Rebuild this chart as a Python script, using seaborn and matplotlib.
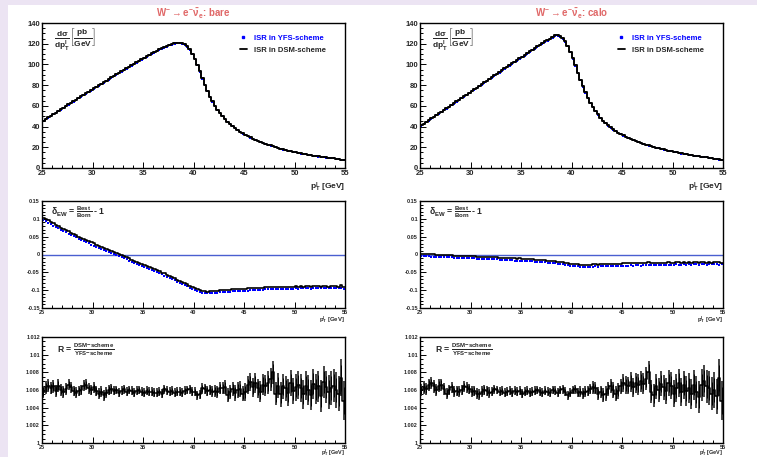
import numpy as np
import pandas as pd
import matplotlib
matplotlib.use("Agg")
import matplotlib.pyplot as plt
import seaborn as sns
from matplotlib.ticker import MultipleLocator, AutoMinorLocator, FuncFormatter
from matplotlib.lines import Line2D
from matplotlib.patches import Rectangle

# ---- data: 120 bins of 0.25 GeV between 25 and 55 GeV ----
pt_min, pt_max, bin_w = 25.0, 55.0, 0.25
pt = np.arange(pt_min + bin_w / 2, pt_max, bin_w)

# dsigma/dpT [pb/GeV], ISR in YFS scheme
yfs_bare = [
    45.5, 47.0, 48.6, 50.1, 51.7, 53.2, 54.8, 56.3, 57.9, 59.4, 61.0, 62.5,
    64.1, 65.6, 67.2, 68.7, 70.2, 71.8, 73.3, 74.8, 76.4, 77.9, 79.4, 80.9,
    82.4, 83.9, 85.4, 86.9, 88.4, 89.9, 91.4, 92.9, 94.4, 95.8, 97.3, 98.8,
    100.2, 101.7, 103.1, 104.5, 105.9, 107.3, 108.7, 110.0, 111.3, 112.6, 113.9, 115.1,
    116.2, 117.3, 118.3, 119.2, 119.9, 120.3, 120.3, 119.8, 118.6, 116.7, 113.8, 109.9,
    105.0, 99.2, 92.8, 86.2, 79.8, 73.9, 68.6, 63.9, 59.8, 56.1, 52.8, 49.8,
    47.1, 44.6, 42.3, 40.2, 38.3, 36.5, 34.8, 33.3, 31.9, 30.6, 29.4, 28.2,
    27.1, 26.1, 25.1, 24.2, 23.3, 22.5, 21.7, 20.9, 19.8, 19.1, 18.4, 17.8,
    17.2, 16.6, 16.0, 15.5, 15.0, 14.5, 14.0, 13.5, 13.1, 12.7, 12.3, 11.9,
    11.5, 11.1, 10.8, 10.4, 10.1, 9.8, 9.5, 9.2, 8.7, 8.3, 8.0, 7.7,
]
yfs_calo = [
    41.0, 42.6, 44.2, 45.8, 47.5, 49.1, 50.7, 52.4, 54.0, 55.6, 57.3, 58.9,
    60.6, 62.2, 63.9, 65.5, 67.2, 68.9, 70.5, 72.2, 73.9, 75.5, 77.2, 78.9,
    80.5, 82.2, 83.9, 85.5, 87.2, 88.9, 90.6, 92.2, 93.9, 95.6, 97.3, 98.9,
    100.4, 102.0, 103.6, 105.2, 106.8, 108.5, 110.2, 111.9, 113.5, 115.2, 116.8, 118.4,
    120.0, 121.6, 123.0, 124.2, 126.0, 127.3, 127.4, 126.4, 125.0, 122.0, 117.5, 111.8,
    105.5, 98.5, 91.5, 84.8, 78.5, 72.5, 67.2, 62.6, 58.5, 54.8, 51.5, 48.4,
    45.5, 43.2, 41.0, 39.0, 37.0, 35.4, 33.9, 32.6, 31.3, 30.1, 29.0, 27.9,
    26.9, 25.9, 25.0, 24.1, 23.3, 22.5, 21.7, 21.0, 20.3, 19.6, 19.0, 18.4,
    17.8, 17.2, 16.6, 16.1, 15.5, 15.0, 14.5, 14.0, 13.6, 13.1, 12.7, 12.3,
    11.9, 11.5, 11.2, 10.8, 10.5, 10.2, 9.9, 9.6, 9.0, 8.6, 8.2, 7.9,
]

# delta_EW = Best/Born - 1, YFS scheme
delta_bare = [
    0.097, 0.093, 0.089, 0.085, 0.081, 0.077, 0.073, 0.069, 0.065, 0.062, 0.058, 0.055,
    0.051, 0.048, 0.044, 0.041, 0.038, 0.034, 0.031, 0.028, 0.025, 0.022, 0.019, 0.016,
    0.013, 0.010, 0.007, 0.004, 0.001, -0.002, -0.005, -0.008, -0.011, -0.014, -0.017, -0.020,
    -0.023, -0.026, -0.029, -0.032, -0.035, -0.038, -0.041, -0.044, -0.047, -0.050, -0.053, -0.056,
    -0.059, -0.062, -0.066, -0.069, -0.072, -0.076, -0.079, -0.082, -0.086, -0.089, -0.093, -0.096,
    -0.099, -0.102, -0.105, -0.107, -0.108, -0.109, -0.109, -0.108, -0.108, -0.107, -0.106, -0.106,
    -0.105, -0.104, -0.104, -0.103, -0.103, -0.102, -0.102, -0.101, -0.101, -0.101, -0.100, -0.100,
    -0.100, -0.099, -0.099, -0.099, -0.098, -0.098, -0.098, -0.097, -0.097, -0.097, -0.097, -0.096,
    -0.096, -0.096, -0.096, -0.096, -0.095, -0.096, -0.095, -0.095, -0.095, -0.095, -0.096, -0.095,
    -0.095, -0.094, -0.095, -0.095, -0.094, -0.095, -0.094, -0.095, -0.094, -0.095, -0.093, -0.096,
]
delta_calo = [
    -0.004, -0.004, -0.005, -0.005, -0.006, -0.006, -0.006, -0.007, -0.007, -0.007, -0.008, -0.008,
    -0.008, -0.009, -0.009, -0.009, -0.010, -0.010, -0.010, -0.011, -0.011, -0.011, -0.012, -0.012,
    -0.012, -0.013, -0.013, -0.013, -0.014, -0.014, -0.014, -0.015, -0.015, -0.015, -0.016, -0.016,
    -0.016, -0.017, -0.017, -0.017, -0.018, -0.018, -0.018, -0.019, -0.019, -0.020, -0.020, -0.021,
    -0.021, -0.022, -0.023, -0.024, -0.025, -0.025, -0.026, -0.027, -0.028, -0.029, -0.030, -0.031,
    -0.032, -0.033, -0.033, -0.034, -0.034, -0.034, -0.034, -0.034, -0.034, -0.033, -0.034, -0.033,
    -0.033, -0.032, -0.033, -0.032, -0.032, -0.032, -0.031, -0.032, -0.031, -0.031, -0.031, -0.030,
    -0.031, -0.030, -0.030, -0.031, -0.030, -0.030, -0.029, -0.030, -0.030, -0.029, -0.030, -0.029,
    -0.029, -0.029, -0.029, -0.030, -0.029, -0.028, -0.029, -0.029, -0.028, -0.029, -0.028, -0.029,
    -0.028, -0.028, -0.029, -0.028, -0.028, -0.029, -0.028, -0.028, -0.028, -0.027, -0.029, -0.028,
]

# R = DSM / YFS, stored as (R - 1) * 1000
ratio_bare = [
    5.8, 6.3, 6.5, 6.2, 6.4, 5.9, 6.5, 6.0, 5.8, 6.1, 6.6, 6.3,
    5.9, 5.7, 5.9, 6.0, 6.5, 6.6, 6.2, 6.0, 6.3, 5.9, 5.6, 5.8,
    5.4, 5.7, 6.0, 6.1, 5.9, 6.0, 5.7, 5.9, 6.1, 5.8, 6.0, 5.9,
    5.7, 5.9, 6.0, 5.8, 5.7, 5.9, 5.8, 5.8, 5.7, 5.7, 5.8, 5.6,
    6.1, 5.9, 5.8, 5.9, 5.7, 5.8, 5.8, 5.7, 5.9, 6.0, 6.1, 5.8,
    5.8, 5.4, 5.5, 6.2, 6.1, 5.9, 6.0, 5.8, 5.9, 5.8, 6.2, 6.2,
    6.3, 5.4, 5.8, 6.1, 5.7, 6.0, 6.1, 5.6, 5.8, 6.6, 6.9, 6.3,
    6.8, 6.2, 5.8, 6.6, 6.5, 6.8, 7.2, 8.0, 5.6, 6.5, 5.5, 6.4,
    6.2, 5.7, 6.8, 5.9, 6.3, 6.6, 6.2, 5.5, 6.5, 6.0, 5.4, 6.7,
    6.1, 6.4, 5.3, 6.9, 6.3, 5.8, 6.2, 6.5, 6.0, 5.6, 7.4, 4.8,
]
ratio_calo = [
    6.0, 6.3, 6.1, 6.6, 6.8, 6.4, 6.0, 6.5, 6.6, 6.1, 5.6, 6.0,
    6.3, 5.8, 5.9, 5.8, 6.0, 6.4, 6.3, 6.1, 5.8, 5.9, 5.6, 5.5,
    5.8, 6.0, 5.9, 5.7, 5.8, 6.1, 6.0, 5.8, 5.9, 5.7, 5.8, 5.9,
    5.7, 5.9, 5.8, 5.9, 5.6, 5.8, 5.9, 5.7, 5.8, 5.9, 6.0, 5.8,
    5.7, 5.9, 5.8, 5.7, 6.0, 5.9, 5.7, 6.0, 6.1, 5.8, 5.4, 5.7,
    6.0, 6.1, 5.7, 5.8, 5.6, 5.8, 5.9, 6.1, 6.3, 6.2, 5.6, 5.8,
    5.4, 5.6, 6.1, 6.5, 6.0, 5.6, 5.9, 6.4, 6.8, 6.6, 6.5, 6.9,
    6.3, 6.8, 6.6, 7.0, 6.7, 7.3, 8.0, 5.8, 5.4, 6.4, 6.0, 6.7,
    6.3, 5.9, 6.8, 6.5, 5.6, 6.2, 6.8, 5.8, 6.6, 5.9, 6.2, 5.5,
    6.6, 5.8, 5.2, 6.6, 7.0, 6.4, 6.2, 5.6, 6.0, 5.3, 7.4, 4.8,
]
# statistical error on R, also x1000
ratio_err = [
    0.7, 0.7, 0.7, 0.7, 0.7, 0.7, 0.7, 0.7, 0.7, 0.7, 0.6, 0.6,
    0.6, 0.6, 0.6, 0.6, 0.6, 0.6, 0.6, 0.6, 0.6, 0.6, 0.6, 0.6,
    0.6, 0.6, 0.6, 0.6, 0.5, 0.5, 0.5, 0.5, 0.5, 0.5, 0.5, 0.5,
    0.5, 0.5, 0.5, 0.5, 0.5, 0.5, 0.5, 0.5, 0.5, 0.5, 0.5, 0.5,
    0.5, 0.5, 0.5, 0.5, 0.5, 0.5, 0.5, 0.5, 0.5, 0.5, 0.5, 0.5,
    0.5, 0.5, 0.5, 0.6, 0.6, 0.6, 0.6, 0.6, 0.7, 0.7, 0.7, 0.7,
    0.8, 0.8, 0.8, 0.8, 0.9, 0.9, 0.9, 0.9, 1.0, 1.0, 1.0, 1.1,
    1.1, 1.1, 1.2, 1.2, 1.2, 1.3, 1.3, 1.3, 1.3, 1.4, 1.4, 1.4,
    1.4, 1.5, 1.5, 1.5, 1.5, 1.6, 1.6, 1.6, 1.6, 1.7, 1.7, 1.7,
    1.7, 1.8, 1.8, 1.8, 1.8, 1.9, 1.9, 1.9, 2.0, 2.0, 2.1, 2.2,
]

schemes = ["bare", "calo"]
yfs = {"bare": yfs_bare, "calo": yfs_calo}
delta = {"bare": delta_bare, "calo": delta_calo}
ratio = {"bare": ratio_bare, "calo": ratio_calo}

# ---- style ----
sns.set_theme(style="ticks")
plt.rcParams["font.family"] = ["Liberation Sans", "DejaVu Sans"]
plt.rcParams["font.weight"] = "bold"
plt.rcParams["mathtext.fontset"] = "custom"
plt.rcParams["mathtext.rm"] = "Liberation Sans:bold"
plt.rcParams["mathtext.it"] = "Liberation Sans:bold"
plt.rcParams["mathtext.bf"] = "Liberation Sans:bold"
plt.rcParams["mathtext.default"] = "bf"

fig = plt.figure(figsize=(7.57, 4.57), dpi=100, facecolor="#ece4f3")
fig.patches.append(Rectangle((8 / 757, 0), 1, 1 - 5 / 457, transform=fig.transFigure,
                             facecolor="white", edgecolor="none", zorder=-10))

W, H = 757, 457
col_x = [42, 420]
ax_w = 303
rows = [(23, 168), (201, 308), (337, 443)]
gfmt = FuncFormatter(lambda v, p: f"{v:g}")


def make_ax(x0, y0, y1):
    return fig.add_axes([x0 / W, 1 - y1 / H, ax_w / W, (y1 - y0) / H])


def style_ax(ax, size, major_y, n_minor_y):
    ax.set_xlim(pt_min, pt_max)
    ax.xaxis.set_major_locator(MultipleLocator(5))
    ax.xaxis.set_minor_locator(AutoMinorLocator(5))
    ax.yaxis.set_major_locator(MultipleLocator(major_y))
    ax.yaxis.set_minor_locator(AutoMinorLocator(n_minor_y))
    ax.tick_params(which="both", direction="in", top=False, right=False,
                   labelsize=size, pad=1.5, width=0.7, color="black")
    ax.tick_params(which="major", length=4.5)
    ax.tick_params(which="minor", length=2.5)
    for s in ax.spines.values():
        s.set_visible(True)
        s.set_linewidth(1.0)
        s.set_color("black")
    ax.set_xlabel("")
    ax.set_ylabel("")


def step(ax, values, lw, z):
    df = pd.DataFrame({"pt": pt, "w": values})
    sns.histplot(data=df, x="pt", weights="w", binwidth=bin_w, binrange=(pt_min, pt_max),
                 element="step", fill=False, color="black", linewidth=lw, ax=ax, zorder=z)


for i, sc in enumerate(schemes):
    x0 = col_x[i]
    b = np.array(yfs[sc])
    r = 1 + np.array(ratio[sc]) * 1e-3
    e = np.array(ratio_err) * 1e-3
    d = np.array(delta[sc])
    dsm = b * r
    d_dsm = (1 + d) * r - 1

    fig.text((x0 + ax_w / 2) / W, 1 - 14 / H,
             r"W$^{-}$$\rightarrow$e$^{-}$$\bar{\nu}_{e}$: " + sc,
             ha="center", va="center", color="#e06868", fontsize=7)

    # top: distribution
    ax = make_ax(x0, *rows[0])
    sns.scatterplot(x=pt, y=b, marker="s", s=2.5, color="#0000ff", linewidth=0, ax=ax, zorder=2)
    step(ax, dsm, 1.4, 3)
    ax.set_ylim(0, 140)
    style_ax(ax, 5.5, 20, 4)
    ax.text(0.04, 0.975, r"$\frac{d\sigma}{dp^{l}_{T}}\left[\frac{pb}{GeV}\right]$",
            transform=ax.transAxes, ha="left", va="top", fontsize=8.5)
    handles = [Line2D([], [], marker="s", ls="none", color="#0000ff", markersize=1.6),
               Line2D([], [], color="black", lw=1.3)]
    leg = ax.legend(handles, ["ISR in YFS-scheme", "ISR in DSM-scheme"], loc="upper left",
                    bbox_to_anchor=(0.63, 0.97), frameon=False, fontsize=5.5,
                    handlelength=0.9, handletextpad=1.0, labelspacing=0.6)
    leg.get_texts()[0].set_color("#0000ff")
    ax.text(1.0, -0.09, r"p$^{l}_{T}$ [GeV]", transform=ax.transAxes,
            ha="right", va="top", fontsize=6)

    # middle: delta_EW
    ax = make_ax(x0, *rows[1])
    ax.axhline(0, color="#4a5fd0", lw=1.0, zorder=1)
    sns.scatterplot(x=pt, y=d, marker="s", s=3.5, color="#0000ff", linewidth=0, ax=ax, zorder=2)
    step(ax, d_dsm, 1.2, 3)
    ax.set_ylim(-0.15, 0.15)
    style_ax(ax, 4, 0.05, 5)
    ax.yaxis.set_major_formatter(gfmt)
    ax.text(0.03, 0.96, r"$\delta_{EW}$ = $\frac{Best}{Born}$ - 1", transform=ax.transAxes,
            ha="left", va="top", fontsize=6.2)
    ax.text(1.0, -0.06, r"p$^{l}_{T}$ [GeV]", transform=ax.transAxes,
            ha="right", va="top", fontsize=4.3)

    # bottom: ratio
    ax = make_ax(x0, *rows[2])
    ax.bar(pt, 2 * e, bottom=r - e, width=0.2, color="#4a4a4a", linewidth=0, zorder=2)
    ax.vlines(pt, r - 0.7 * e, r + 0.7 * e, color="black", lw=0.7, zorder=3)
    step(ax, r, 1.1, 4)
    ax.set_ylim(1.0, 1.012)
    style_ax(ax, 4, 0.002, 4)
    ax.yaxis.set_major_formatter(gfmt)
    ax.text(0.05, 0.96, r"R = $\frac{DSM{-}scheme}{YFS{-}scheme}$", transform=ax.transAxes,
            ha="left", va="top", fontsize=6.2)
    ax.text(1.0, -0.04, r"p$^{l}_{T}$ [GeV]", transform=ax.transAxes,
            ha="right", va="top", fontsize=4.0)

fig.savefig("out.png", dpi=100, facecolor=fig.get_facecolor())
